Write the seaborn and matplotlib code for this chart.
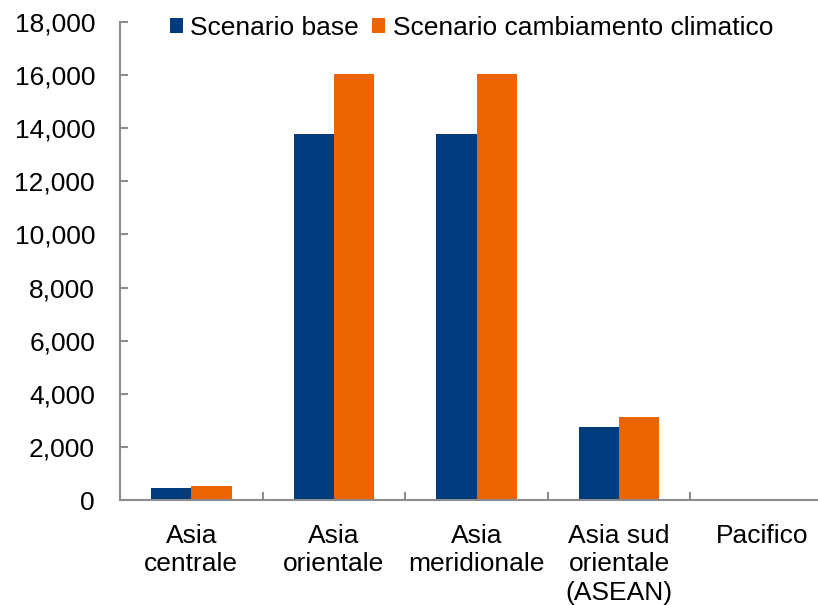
import matplotlib
matplotlib.use("Agg")
import matplotlib.pyplot as plt
import matplotlib.patheffects as pe
from matplotlib.patches import Patch
from matplotlib.ticker import FuncFormatter, FixedLocator, MultipleLocator
import pandas as pd
import seaborn as sns

# Regions and values per scenario
regions = ["Asia\ncentrale", "Asia\norientale", "Asia\nmeridionale",
           "Asia sud\norientale\n(ASEAN)", "Pacifico"]
scenario_names = ["Scenario base", "Scenario cambiamento climatico"]
base_values = [470, 13800, 13800, 2750, 40]
climate_values = [540, 16050, 16050, 3130, 40]

series_colors = ["#003C7D", "#EC6400"]

df = pd.DataFrame({
    "region": regions * 2,
    "scenario": [scenario_names[0]] * len(regions) + [scenario_names[1]] * len(regions),
    "value": base_values + climate_values,
})

sns.set_theme(style="white")
plt.rcParams["font.family"] = ["Liberation Sans", "DejaVu Sans"]
FS = 19
plt.rcParams["font.size"] = FS
plt.rcParams["text.color"] = "black"

W, H = 818, 605
fig = plt.figure(figsize=(W / 100, H / 100), dpi=100)
ax_left, ax_right, ax_top, ax_bottom = 120, 833, 22, 500
ax = fig.add_axes([ax_left / W, 1 - ax_bottom / H,
                   (ax_right - ax_left) / W, (ax_bottom - ax_top) / H])

sns.barplot(data=df, x="region", y="value", hue="scenario",
            hue_order=scenario_names, order=regions,
            palette=series_colors, saturation=1, width=0.565, gap=0,
            linewidth=0, ax=ax, legend=False)

# soft drop shadow under the bars
for bar in ax.patches:
    bar.set_path_effects([pe.SimplePatchShadow(offset=(0, -1.6), alpha=0.4, rho=1.0),
                          pe.Normal()])

ax.set_xlim(-0.5, len(regions) - 0.5)
ax.set_ylim(0, 18000)
ax.yaxis.set_major_locator(MultipleLocator(2000))
ax.yaxis.set_major_formatter(FuncFormatter(lambda v, p: f"{v:,.0f}"))
ax.set_xlabel("")
ax.set_ylabel("")

axis_gray = "#8C8C8C"
for side in ["top", "right"]:
    ax.spines[side].set_visible(False)
for side in ["left", "bottom"]:
    ax.spines[side].set_color(axis_gray)
    ax.spines[side].set_linewidth(1.5)

# category separators on the x axis
ax.xaxis.set_minor_locator(FixedLocator([i + 0.5 for i in range(len(regions) - 1)]))
ax.tick_params(axis="x", which="major", length=0, pad=17, labelsize=FS, colors="black")
ax.tick_params(axis="x", which="minor", direction="in", length=5.5, width=1.5,
               color=axis_gray, bottom=True)
ax.tick_params(axis="y", which="major", direction="in", length=5.5, width=1.5,
               color=axis_gray, pad=18, labelsize=FS, labelcolor="black", left=True)
plt.setp(ax.get_xticklabels(), linespacing=1.24, ha="center")

handles = [Patch(facecolor=c, edgecolor="none") for c in series_colors]
ax.legend(handles, scenario_names, loc="center left",
          bbox_to_anchor=(170 / W, 1 - 28 / H), bbox_transform=fig.transFigure,
          frameon=False, borderpad=0, borderaxespad=0, ncol=2,
          handlelength=0.5, handleheight=0.5, handletextpad=0.27,
          columnspacing=0.5, fontsize=FS)

fig.savefig("out.png", dpi=100)
